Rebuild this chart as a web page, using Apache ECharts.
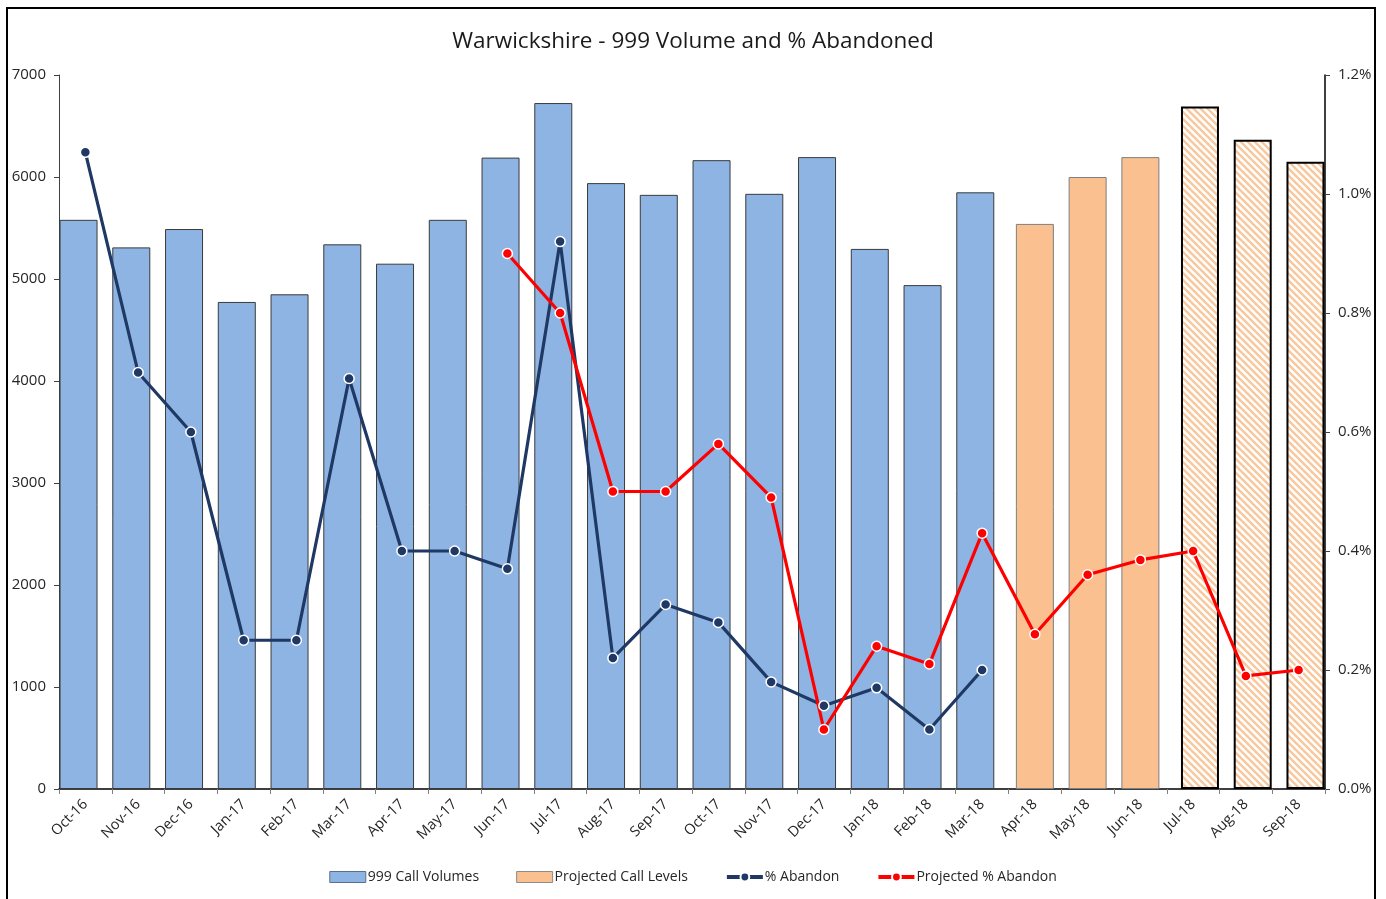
<!DOCTYPE html>
<html>
<head>
<meta charset="utf-8">
<script src="https://cdn.jsdelivr.net/npm/echarts@6/dist/echarts.min.js"></script>
<style>
  html, body { margin: 0; padding: 0; background: #fff; }
  #chart { width: 1386px; height: 899px; }
</style>
</head>
<body>
<div id="chart"></div>
<script>
// Month categories
const months = ['Oct-16','Nov-16','Dec-16','Jan-17','Feb-17','Mar-17','Apr-17','May-17','Jun-17','Jul-17','Aug-17','Sep-17',
                'Oct-17','Nov-17','Dec-17','Jan-18','Feb-18','Mar-18','Apr-18','May-18','Jun-18','Jul-18','Aug-18','Sep-18'];

// Actual 999 call volumes
const callVolumes = [5580, 5310, 5490, 4775, 4850, 5340, 5150, 5580, 6190, 6725, 5940, 5825,
                     6165, 5835, 6195, 5295, 4940, 5850, '-', '-', '-', '-', '-', '-'];

// Projected call levels (solid)
const projectedCalls = ['-', '-', '-', '-', '-', '-', '-', '-', '-', '-', '-', '-',
                        '-', '-', '-', '-', '-', '-', 5540, 6000, 6195, '-', '-', '-'];

// Projected call levels (later months, hatched)
const projectedCallsLater = ['-', '-', '-', '-', '-', '-', '-', '-', '-', '-', '-', '-',
                             '-', '-', '-', '-', '-', '-', '-', '-', '-', 6690, 6365, 6150];

// % abandoned (actual)
const pctAbandon = [1.07, 0.70, 0.60, 0.25, 0.25, 0.69, 0.40, 0.40, 0.37, 0.92, 0.22, 0.31,
                    0.28, 0.18, 0.14, 0.17, 0.10, 0.20, '-', '-', '-', '-', '-', '-'];

// % abandoned (projected)
const pctProjected = ['-', '-', '-', '-', '-', '-', '-', '-', 0.90, 0.80, 0.50, 0.50,
                      0.58, 0.49, 0.10, 0.24, 0.21, 0.43, 0.26, 0.36, 0.385, 0.40, 0.19, 0.20];

// Axis tick values
const leftTicks = { min: 0, max: 7000, interval: 1000 };
const rightTicks = { min: 0, max: 1.2, interval: 0.2 };

// Diagonal hatch tile for the later projected bars
function hatchPattern() {
  const s = 7;
  const c = document.createElement('canvas');
  c.width = s; c.height = s;
  const g = c.getContext('2d');
  g.fillStyle = '#ffffff';
  g.fillRect(0, 0, s, s);
  g.strokeStyle = '#F9C79C';
  g.lineWidth = 2.4;
  g.beginPath();
  g.moveTo(-1, -1); g.lineTo(s + 1, s + 1);
  g.moveTo(-s - 1, -1); g.lineTo(1, s + 1);
  g.moveTo(s - 1, -s - 1); g.lineTo(2 * s + 1, s + 1);
  g.moveTo(-1, -s - 1); g.lineTo(s + 1, 1);
  g.moveTo(-1, s - 1); g.lineTo(1, s + 1);
  g.stroke();
  return { image: c, repeat: 'repeat' };
}

const font = '"Open Sans", "Noto Sans", sans-serif';
const chart = echarts.init(document.getElementById('chart'), null, { renderer: 'canvas' });

// The three bar series sit in one overlapping cluster per month
const barW = 38;
const barOverlap = '-82%';

chart.setOption({
  animation: false,
  backgroundColor: '#ffffff',
  textStyle: { fontFamily: font, color: '#262626' },
  title: {
    text: 'Warwickshire - 999 Volume and % Abandoned',
    left: 'center',
    top: 25,
    textStyle: { fontFamily: font, fontSize: 22.5, fontWeight: 'normal', color: '#1a1a1a' }
  },
  graphic: [{
    type: 'rect',
    silent: true,
    shape: { x: 7, y: 8, width: 1368, height: 1000 },
    style: { fill: 'none', stroke: '#000', lineWidth: 2 }
  }],
  grid: { left: 59, right: 61, top: 75, bottom: 110, containLabel: false },
  legend: {
    bottom: 10,
    left: 'center',
    itemWidth: 36,
    itemHeight: 11,
    itemGap: 37,
    textStyle: { fontFamily: font, fontSize: 14, color: '#262626', padding: [0, 0, 0, -3] },
    data: [
      { name: '999 Call Volumes', icon: 'rect', itemStyle: { borderColor: '#5a6f8c', borderWidth: 1 } },
      { name: 'Projected Call Levels', icon: 'rect', itemStyle: { borderColor: '#8c8c8c', borderWidth: 1 } },
      { name: '% Abandon', lineStyle: { width: 4 } },
      { name: 'Projected % Abandon', lineStyle: { width: 4 } }
    ]
  },
  xAxis: {
    type: 'category',
    data: months,
    boundaryGap: true,
    axisLine: { lineStyle: { color: '#000', width: 1.5 } },
    axisTick: { show: true, length: 5, lineStyle: { color: '#7f7f7f' } },
    axisLabel: { rotate: 45, fontSize: 14.5, color: '#262626', margin: 13, fontFamily: font }
  },
  yAxis: [{
    type: 'value',
    min: leftTicks.min, max: leftTicks.max, interval: leftTicks.interval,
    splitLine: { show: false },
    axisLine: { show: true, lineStyle: { color: '#404040' } },
    axisTick: { show: true, length: 5, lineStyle: { color: '#404040' } },
    axisLabel: { fontSize: 15, color: '#262626', margin: 13, fontFamily: font,
                 formatter: v => String(v) }
  }, {
    type: 'value',
    min: rightTicks.min, max: rightTicks.max, interval: rightTicks.interval,
    splitLine: { show: false },
    axisLine: { show: true, lineStyle: { color: '#000', width: 1.5 } },
    axisTick: { show: true, length: 5, lineStyle: { color: '#404040' } },
    axisLabel: { fontSize: 15, color: '#262626', margin: 13, fontFamily: font,
                 formatter: v => v.toFixed(1) + '%' }
  }],
  series: [{
    name: '999 Call Volumes',
    type: 'bar',
    data: callVolumes,
    barWidth: barW,
    barGap: barOverlap,
    itemStyle: { color: '#8EB4E3', borderColor: '#3a3a3a', borderWidth: 1 }
  }, {
    name: 'Projected Call Levels',
    type: 'bar',
    data: projectedCalls,
    barWidth: barW,
    barGap: barOverlap,
    itemStyle: { color: '#FAC090', borderColor: '#7f7f7f', borderWidth: 1 }
  }, {
    name: 'Projected Call Levels (later)',
    type: 'bar',
    data: projectedCallsLater,
    barWidth: barW,
    barGap: barOverlap,
    itemStyle: { color: hatchPattern(), borderColor: '#000', borderWidth: 2 }
  }, {
    name: '% Abandon',
    type: 'line',
    yAxisIndex: 1,
    data: pctAbandon,
    symbol: 'circle',
    symbolSize: 10,
    lineStyle: { color: '#1F3864', width: 3.2 },
    itemStyle: { color: '#1F3864', borderColor: '#fff', borderWidth: 1.5 }
  }, {
    name: 'Projected % Abandon',
    type: 'line',
    yAxisIndex: 1,
    data: pctProjected,
    symbol: 'circle',
    symbolSize: 10,
    lineStyle: { color: '#FF0000', width: 3.2 },
    itemStyle: { color: '#FF0000', borderColor: '#fff', borderWidth: 1.5 }
  }]
});
</script>
</body>
</html>
